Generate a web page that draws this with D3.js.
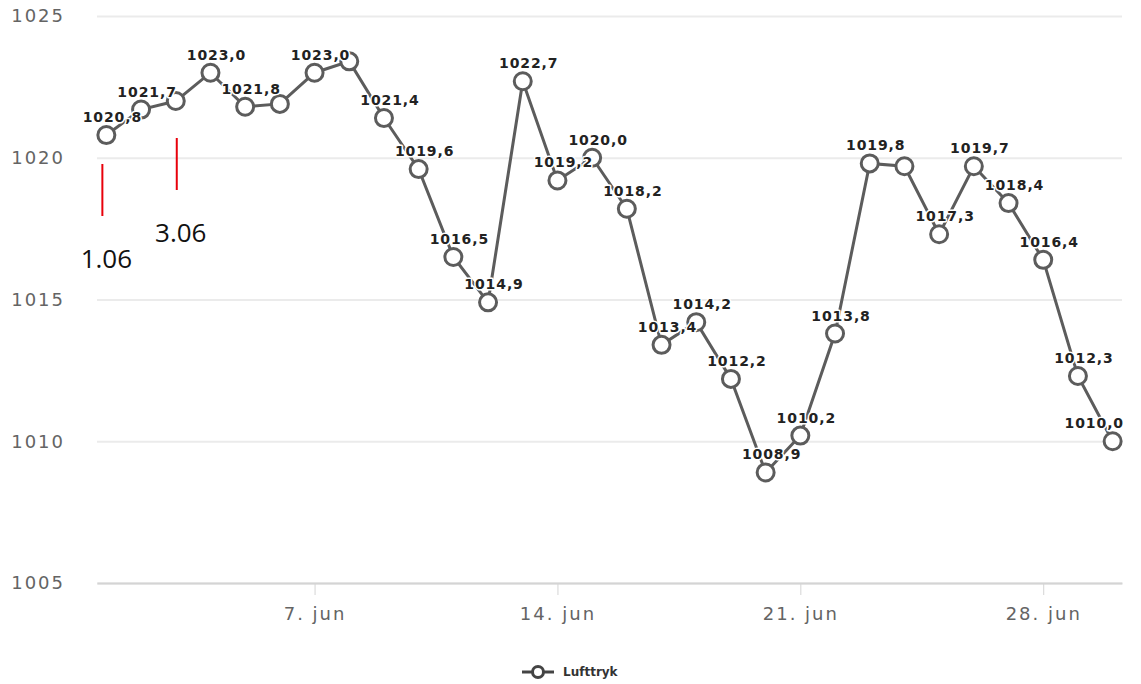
<!DOCTYPE html>
<html>
<head>
<meta charset="utf-8">
<script src="https://cdn.jsdelivr.net/npm/d3@7"></script>
<style>
  body { margin: 0; background: #fff; }
  svg { display: block; }
  .axis text { font-family: "DejaVu Sans", sans-serif; font-size: 18px; fill: #646464; letter-spacing: 2px; }
  .dataLabel { font-family: "DejaVu Sans", sans-serif; font-size: 14px; font-weight: bold; fill: #222; letter-spacing: 0.9px;
               paint-order: stroke; stroke: #fff; stroke-width: 3px; stroke-linejoin: round; }
  .note { font-family: "Open Sans", sans-serif; font-size: 26px; fill: #111; }
  .legend { font-family: "DejaVu Sans", sans-serif; font-size: 12px; font-weight: bold; fill: #333; }
</style>
</head>
<body>
<div id="svganchor"></div>
<script>
let width = 1141, height = 684;

let margin = ({top: 16, right: 19, bottom: 101, left: 97});

// lufttryk (hPa), 1. - 30. juni
let days = d3.range(1, 31);
let pressure = [1020.8, 1021.7, 1022.0, 1023.0, 1021.8, 1021.9, 1023.0, 1023.4, 1021.4, 1019.6,
                1016.5, 1014.9, 1022.7, 1019.2, 1020.0, 1018.2, 1013.4, 1014.2, 1012.2, 1008.9,
                1010.2, 1013.8, 1019.8, 1019.7, 1017.3, 1019.7, 1018.4, 1016.4, 1012.3, 1010.0];
let yTicks = [1005, 1010, 1015, 1020, 1025];
let xTickDays = [7, 14, 21, 28];
let seriesName = "Lufttryk";

// red hand-made markers
let notes = [{day: 1, label: "1.06"}, {day: 3, label: "3.06"}];

let day = function(d) { return new Date(2015, 5, d); };
let pad = 0.27 * 864e5;

let xScale = d3.scaleTime()
    .domain([+day(1) - pad, +day(30) + pad])
    .range([margin.left, width - margin.right]);

let yScale = d3.scaleLinear()
    .domain([1005, 1025])
    .range([height - margin.bottom, margin.top]);

let svg = d3.select("#svganchor")
    .append("svg")
    .attr("width", width)
    .attr("height", height);

let yAxis = d3.axisLeft(yScale)
    .tickValues(yTicks)
    .tickSizeInner(-(width - margin.left - margin.right))
    .tickSizeOuter(0)
    .tickPadding(32)
    .tickFormat(d3.format("d"));

let gY = svg.append("g")
    .attr("class", "y axis")
    .attr("transform", "translate(" + margin.left + ",0)")
    .call(yAxis);

gY.select(".domain").remove();
gY.selectAll(".tick line").attr("stroke", "#ebebeb").attr("stroke-width", 2);

let xAxis = d3.axisBottom(xScale)
    .tickValues(xTickDays.map(day))
    .tickSizeInner(12)
    .tickSizeOuter(0)
    .tickPadding(12)
    .tickFormat(function(d) { return d.getDate() + ". jun"; });

let gX = svg.append("g")
    .attr("class", "x axis")
    .attr("transform", "translate(0," + (height - margin.bottom) + ")")
    .call(xAxis);

gX.select(".domain").attr("stroke", "#d4d4d4").attr("stroke-width", 2);
gX.selectAll(".tick line").attr("stroke", "#d4d4d4");

let data = days.map(function(d, i) { return {date: day(d), value: pressure[i]}; });

let line = d3.line()
    .x(function(d) { return xScale(d.date); })
    .y(function(d) { return yScale(d.value); });

svg.append("path")
    .datum(data)
    .attr("fill", "none")
    .attr("stroke", "#5c5c5c")
    .attr("stroke-width", 3)
    .attr("d", line);

svg.selectAll(".dot")
    .data(data)
    .enter()
    .append("circle")
    .attr("class", "dot")
    .attr("cx", function(d) { return xScale(d.date); })
    .attr("cy", function(d) { return yScale(d.value); })
    .attr("r", 8.5)
    .attr("fill", "#fff")
    .attr("stroke", "#5c5c5c")
    .attr("stroke-width", 3);

// data labels, hide the ones that overlap an earlier label
let fmt = function(v) { return d3.format(".1f")(v).replace(".", ","); };
let rightEdge = width - margin.right + 2;
let placed = [];
svg.selectAll(".dataLabel")
    .data(data)
    .enter()
    .append("text")
    .attr("class", "dataLabel")
    .attr("text-anchor", "middle")
    .attr("x", function(d) { return xScale(d.date) + 6; })
    .attr("y", function(d) { return yScale(d.value) - 13; })
    .text(function(d) { return fmt(d.value); })
    .each(function() {
        let b = this.getBBox();
        if (b.x + b.width > rightEdge) {
            let shift = b.x + b.width - rightEdge;
            d3.select(this).attr("x", +d3.select(this).attr("x") - shift);
            b = this.getBBox();
        }
        let hit = placed.some(function(p) {
            return b.x < p.x + p.width && p.x < b.x + b.width &&
                   b.y + 3 < p.y + p.height && p.y + 3 < b.y + b.height;
        });
        if (hit) d3.select(this).remove();
        else placed.push(b);
    });

// markers
notes.forEach(function(n, i) {
    let x = xScale(day(n.day)) + (i === 0 ? -4 : 1);
    let top = i === 0 ? 164 : 138;
    svg.append("line")
        .attr("x1", x).attr("x2", x)
        .attr("y1", top).attr("y2", top + 52)
        .attr("stroke", "#e8000b")
        .attr("stroke-width", 2);
    svg.append("text")
        .attr("class", "note")
        .attr("text-anchor", "middle")
        .attr("x", x + 4)
        .attr("y", top + 104)
        .text(n.label);
});

// legend
let lx = 522, ly = 672;
svg.append("line")
    .attr("x1", lx).attr("x2", lx + 32)
    .attr("y1", ly).attr("y2", ly)
    .attr("stroke", "#444").attr("stroke-width", 3);
svg.append("circle")
    .attr("cx", lx + 16).attr("cy", ly).attr("r", 5.5)
    .attr("fill", "#fff").attr("stroke", "#444").attr("stroke-width", 3);
svg.append("text")
    .attr("class", "legend")
    .attr("x", lx + 41)
    .attr("y", ly + 4)
    .text(seriesName);
</script>
</body>
</html>
